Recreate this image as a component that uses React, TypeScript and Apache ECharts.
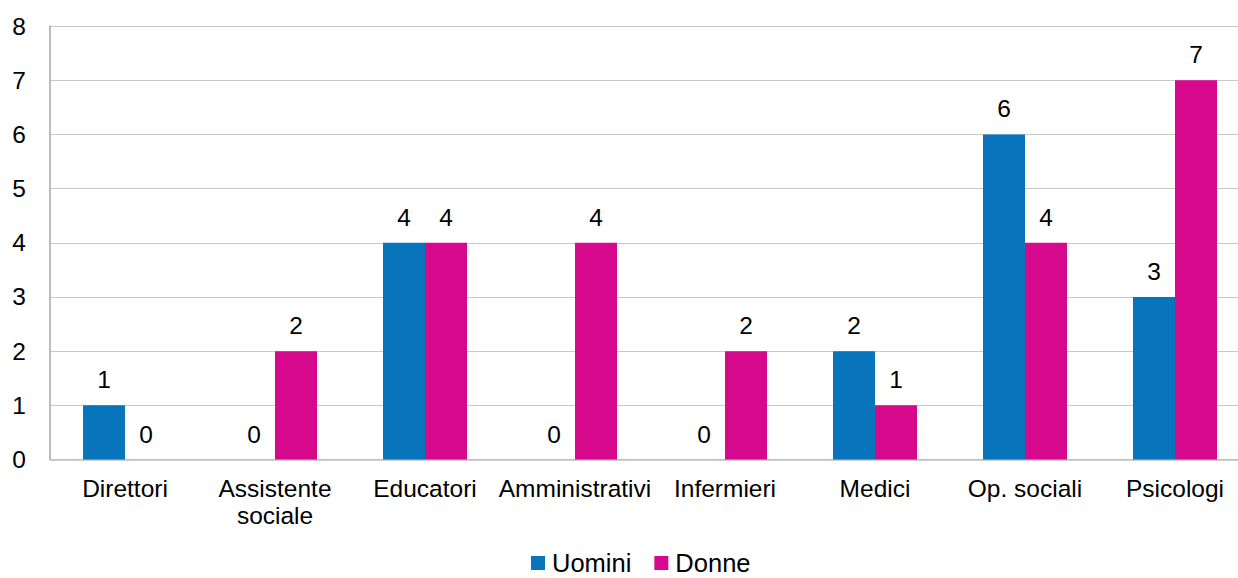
import React, { useEffect, useRef } from "react";
import * as echarts from "echarts";

const categories = ["Direttori", "Assistente\nsociale", "Educatori", "Amministrativi", "Infermieri", "Medici", "Op. sociali", "Psicologi"];
const uomini = [1, 0, 4, 0, 0, 2, 6, 3];
const donne = [0, 2, 4, 4, 2, 1, 4, 7];
const seriesNames = ["Uomini", "Donne"];

const FONT = "Liberation Sans, Arial, sans-serif";

export default function App() {
  const ref = useRef<HTMLDivElement>(null);
  useEffect(() => {
    if (!ref.current) return;
    const chart = echarts.init(ref.current, undefined, { renderer: "svg" });
    const label = {
      show: true,
      position: "top",
      distance: 13,
      color: "#000",
      fontSize: 24.5,
      fontFamily: FONT,
    };
    chart.setOption({
      animation: false,
      backgroundColor: "#fff",
      textStyle: { fontFamily: FONT },
      grid: { left: 50, right: 0, top: 26, bottom: 118.5, containLabel: false },
      legend: {
        top: 550,
        left: 531,
        padding: 0,
        itemWidth: 14,
        itemHeight: 14,
        itemGap: 23,
        icon: "rect",
        textStyle: { fontSize: 25.5, lineHeight: 22, color: "#000", fontFamily: FONT, padding: [0, 0, 0, 2] },
        data: seriesNames,
      },
      xAxis: {
        type: "category",
        data: categories,
        axisLine: { lineStyle: { color: "#BFBFBF", width: 1.5 } },
        axisTick: { show: false },
        axisLabel: { color: "#000", fontSize: 24.5, fontFamily: FONT, margin: 15, lineHeight: 27, interval: 0 },
      },
      yAxis: {
        type: "value",
        min: 0,
        max: 8,
        interval: 1,
        axisLine: { show: true, lineStyle: { color: "#A6A6A6", width: 1.5 } },
        axisTick: { show: false },
        splitLine: { lineStyle: { color: "#C8C8C8", width: 1.2 } },
        axisLabel: { color: "#000", fontSize: 24.5, fontFamily: FONT, margin: 24 },
      },
      series: [
        {
          name: seriesNames[0],
          type: "bar",
          data: uomini,
          barGap: "0%",
          barCategoryGap: "44%",
          itemStyle: { color: "#0874BC" },
          label,
        },
        {
          name: seriesNames[1],
          type: "bar",
          data: donne,
          itemStyle: { color: "#D6098C" },
          label,
        },
      ],
    });
    return () => chart.dispose();
  }, []);
  return (
    <div style={{ position: "fixed", left: 0, top: 0, width: 1238, height: 578, overflow: "hidden", background: "#fff" }}>
      <div ref={ref} style={{ width: 1250, height: 578 }} />
    </div>
  );
}
